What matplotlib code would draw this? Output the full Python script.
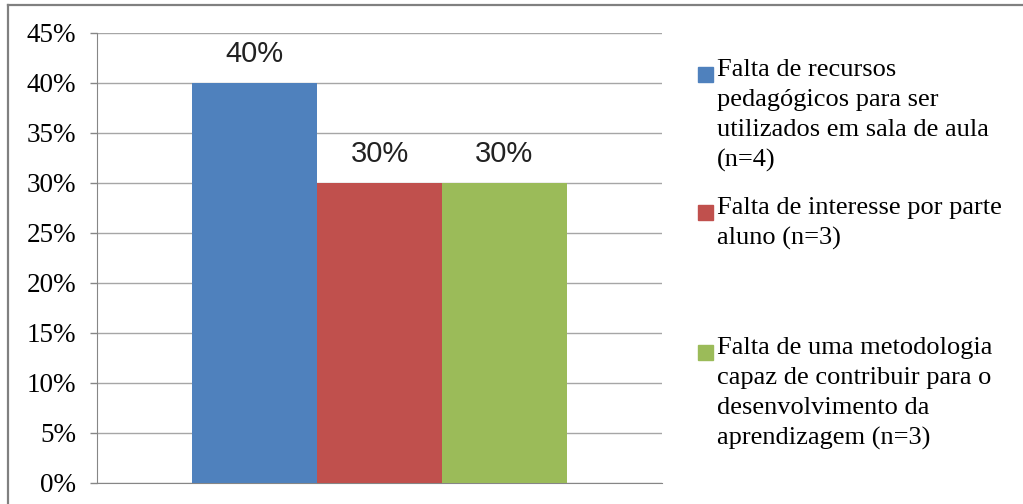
import matplotlib
matplotlib.use("Agg")
import matplotlib.pyplot as plt
from matplotlib.lines import Line2D
from matplotlib.patches import Rectangle
from matplotlib.ticker import FuncFormatter, MultipleLocator

# ---- data ----
series_labels = [
    "Falta de recursos\npedagógicos para ser\nutilizados em sala de aula\n(n=4)",
    "Falta de interesse por parte\naluno (n=3)",
    "Falta de uma metodologia\ncapaz de contribuir para o\ndesenvolvimento da\naprendizagem (n=3)",
]
values = [0.40, 0.30, 0.30]
value_labels = ["40%", "30%", "30%"]
colors = ["#4F81BD", "#C0504D", "#9BBB59"]

W, H = 1023, 504
fig = plt.figure(figsize=(W / 100, H / 100), dpi=100)
ax = fig.add_axes([97 / W, 21 / H, 565 / W, 450 / H])

bar_w = 125 / 565
offsets = [-bar_w, 0, bar_w]
for off, v, c in zip(offsets, values, colors):
    ax.bar(off, v, width=bar_w, color=c, zorder=3, linewidth=0)

for off, v, lab in zip(offsets, values, value_labels):
    ax.annotate(lab, xy=(off, v), xytext=(0, 21), textcoords="offset pixels",
                ha="center", va="baseline", fontsize=21,
                family="Liberation Sans", color="#222222")

ax.set_xlim(-0.5, 0.5)
ax.set_ylim(0, 0.45)
ax.yaxis.set_major_locator(MultipleLocator(0.05))
ax.yaxis.set_major_formatter(FuncFormatter(lambda v, p: f"{round(v * 100)}%"))
ax.set_xticks([])
ax.grid(axis="y", color="#A6A6A6", linewidth=1, zorder=0)
for s in ["top", "right"]:
    ax.spines[s].set_visible(False)
ax.spines["left"].set_color("#868686")
ax.spines["bottom"].set_color("#868686")
ax.tick_params(axis="y", length=5, width=1, color="#868686", pad=10,
               labelsize=19.5, labelfontfamily="Liberation Serif")

# ---- legend (manual, Excel-like placement) ----
tops = [65, 203, 343]
for lab, c, top in zip(series_labels, colors, tops):
    fig.patches.append(Rectangle((698 / W, 1 - (top + 17) / H), 15 / W, 15 / H,
                                 transform=fig.transFigure, color=c))
    fig.text(717 / W, 1 - (top - 6) / H, lab, ha="left", va="top",
             fontsize=19, family="Liberation Serif", linespacing=1.47,
             color="#000000")

# ---- outer frame (top and left visible) ----
fig.add_artist(Line2D([8 / W, 1], [1 - 4.5 / H, 1 - 4.5 / H],
                      transform=fig.transFigure, color="#808080", linewidth=1.6))
fig.add_artist(Line2D([8 / W, 8 / W], [0, 1 - 4.5 / H],
                      transform=fig.transFigure, color="#808080", linewidth=1.6))

fig.savefig("out.png", dpi=100)
